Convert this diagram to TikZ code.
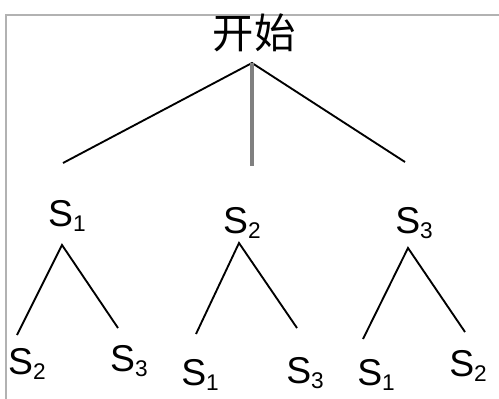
\documentclass[tikz,border=0pt]{standalone}
\usepackage{fontspec}
\setmainfont{Liberation Sans}
\newfontfamily\cjk{Noto Sans CJK SC}
\newcommand{\Sn}[1]{S\raisebox{-4pt}{\fontsize{17}{17}\selectfont #1}}

\begin{document}
\begin{tikzpicture}[x=0.75pt,y=-0.75pt,font=\fontsize{28}{30}\selectfont,line width=1.4pt,
  every node/.style={inner sep=0pt}]
\useasboundingbox (0,0) rectangle (499,399);
\draw[black!30,line width=0.9pt] (499,15) -- (6,15) -- (6,399);

% first draw
\node (r) at (254,33) {\cjk\fontsize{31}{33}\selectfont 开始};
\coordinate (ra) at (252,63);
\coordinate (rl) at (63,163);
\coordinate (rm) at (252,166);
\coordinate (rr) at (405,162);
\draw (rl) -- (ra) -- (rr);
\draw[gray,line width=2.4pt] (ra) -- (rm);

\node (s1) at (67,216) {\Sn{1}};
\node (s2) at (242,223) {\Sn{2}};
\node (s3) at (414,223) {\Sn{3}};

% second draw
\coordinate (a1) at (62,245);
\coordinate (a1l) at (17,335);
\coordinate (a1r) at (118,328);
\draw (a1l) -- (a1) -- (a1r);
\node (s12) at (27,364) {\Sn{2}};
\node (s13) at (129,361) {\Sn{3}};

\coordinate (a2) at (239,243);
\coordinate (a2l) at (196,334);
\coordinate (a2r) at (297,328);
\draw (a2l) -- (a2) -- (a2r);
\node (s21) at (200,375) {\Sn{1}};
\node (s23) at (305,373) {\Sn{3}};

\coordinate (a3) at (408,248);
\coordinate (a3l) at (363,339);
\coordinate (a3r) at (465,332);
\draw (a3l) -- (a3) -- (a3r);
\node (s31) at (376,375) {\Sn{1}};
\node (s32) at (468,366) {\Sn{2}};

\end{tikzpicture}
\end{document}
